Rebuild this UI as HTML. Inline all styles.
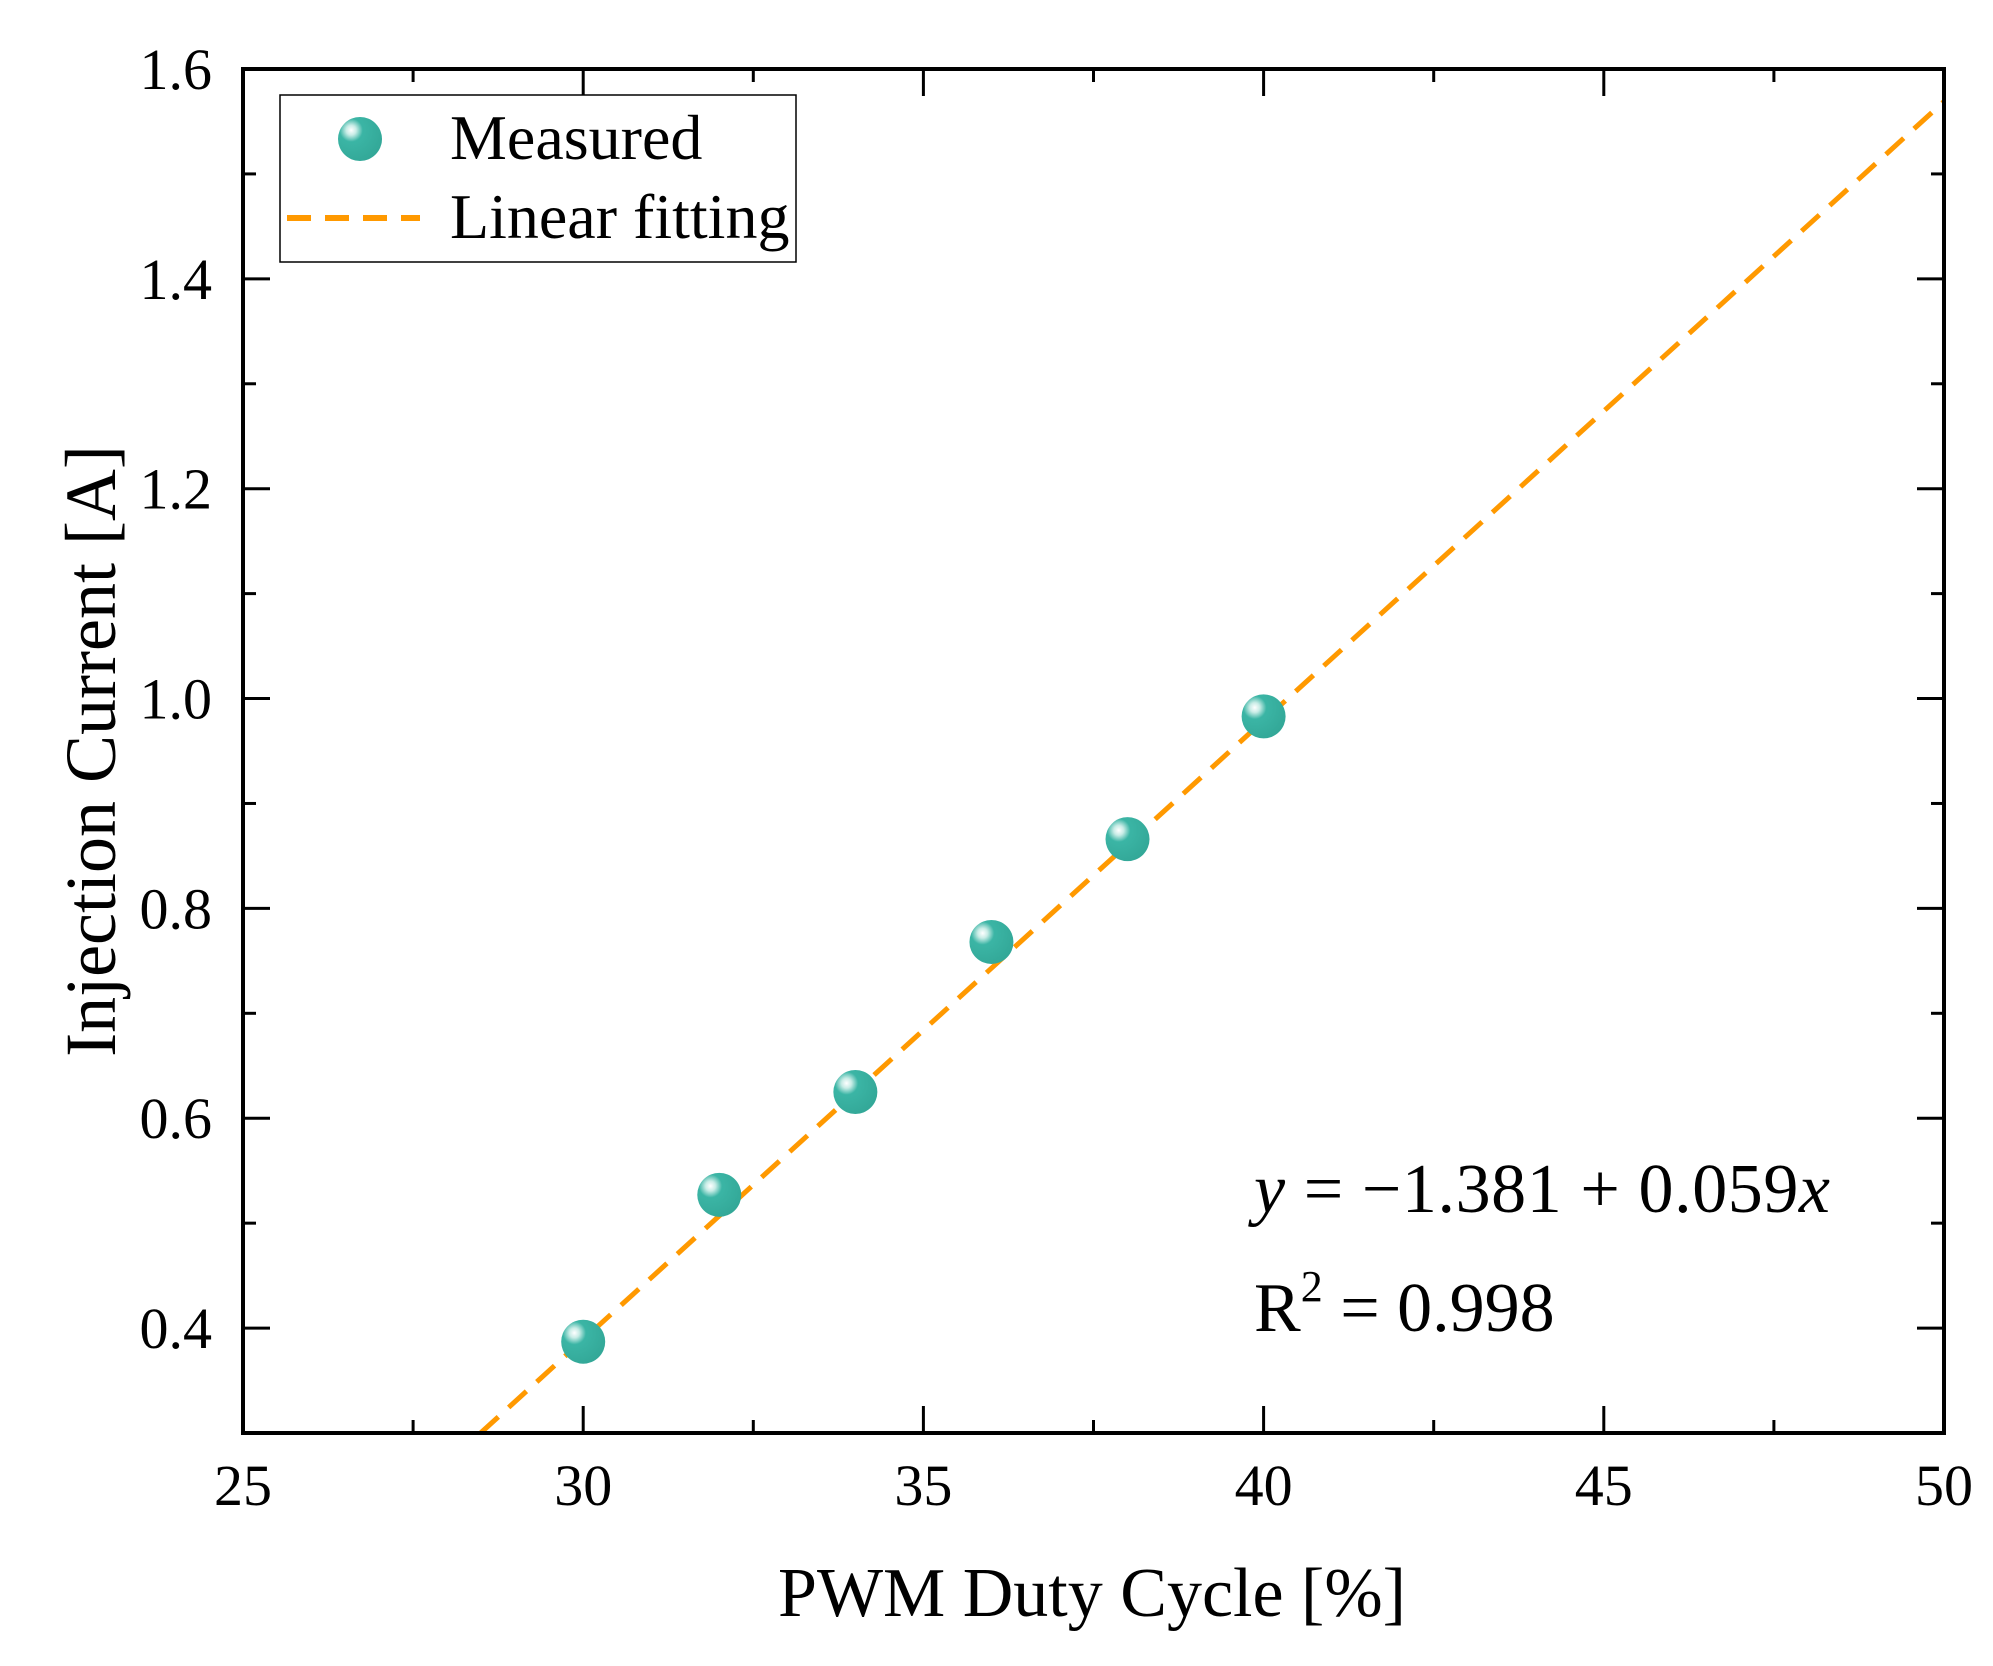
<!DOCTYPE html>
<html><head><meta charset="utf-8"><style>
html,body{margin:0;padding:0;background:#fff;}
svg{display:block;font-family:"Liberation Serif",serif;}
</style></head><body>
<svg id="chart" width="1993" height="1666" viewBox="0 0 1993 1666">
<defs>
<radialGradient id="ball" cx="0.3" cy="0.3" r="0.75">
<stop offset="0" stop-color="#ffffff"/>
<stop offset="0.15" stop-color="#c8ece6"/>
<stop offset="0.35" stop-color="#3bb5a5"/>
<stop offset="1" stop-color="#33a898"/>
</radialGradient>
</defs>
<g id="fit"></g>
<g id="pts"></g>
<g id="axes"></g>
<text x="1092" y="1616" font-size="70" text-anchor="middle">PWM Duty Cycle [%]</text>
<text transform="translate(115,751) rotate(-90)" font-size="72" text-anchor="middle">Injection Current [A]</text>
<text x="1254" y="1212" font-size="70" textLength="576"><tspan font-style="italic">y</tspan> = −1.381 + 0.059<tspan font-style="italic">x</tspan></text>
<text x="1254" y="1331" font-size="70">R<tspan font-size="44" dy="-30">2</tspan><tspan dy="30"> = 0.998</tspan></text>
<g>
<rect x="280" y="95" width="516" height="167" fill="#fff" stroke="#000" stroke-width="1.5"/>
<circle cx="360" cy="139" r="22" fill="url(#ball)"/>
<text x="450" y="159" font-size="64">Measured</text>
<line x1="287" y1="218" x2="420" y2="218" stroke="#FF9900" stroke-width="6" stroke-dasharray="24 14"/>
<text x="450" y="238" font-size="64">Linear fitting</text>
</g>
</svg>
<script>
const xVals = [30, 32, 34, 36, 38, 40];
const yVals = [0.387, 0.527, 0.625, 0.768, 0.866, 0.983];
const xTicks = [25, 30, 35, 40, 45, 50];
const yTicks = [0.4, 0.6, 0.8, 1.0, 1.2, 1.4, 1.6];
const fitCoef = [-1.381, 0.059];

const L=243, R=1944, T=69, B=1433;
const xMin=25, xMax=50, yMin=0.3, yMax=1.6;
const sx = v => L + (v-xMin)/(xMax-xMin)*(R-L);
const sy = v => B - (v-yMin)/(yMax-yMin)*(B-T);
const NS='http://www.w3.org/2000/svg';
function mk(tag, attrs, parent){const e=document.createElementNS(NS,tag);for(const k in attrs)e.setAttribute(k,attrs[k]);parent.appendChild(e);return e;}

const fitG=document.getElementById('fit');
const x0=(yMin-fitCoef[0])/fitCoef[1];
const fl=mk('line',{x1:sx(x0),y1:sy(yMin),x2:sx(xMax),y2:sy(fitCoef[0]+fitCoef[1]*xMax),stroke:'#FF9900','stroke-width':5,'stroke-dasharray':'24 14'},fitG);



const pG=document.getElementById('pts');
xVals.forEach((x,i)=>{
 const c=mk('circle',{cx:sx(x),cy:sy(yVals[i]),r:22,fill:'url(#ball)'},pG);
 
 
});

const aG=document.getElementById('axes');
const fr=mk('rect',{x:L,y:T,width:R-L,height:B-T,fill:'none',stroke:'#000','stroke-width':4},aG);


for(let v=xMin; v<=xMax+0.01; v+=2.5){
 const major=Math.abs(v%5)<0.01; const len=major?27:13; const X=sx(v);
 mk('line',{x1:X,y1:B,x2:X,y2:B-len,stroke:'#000','stroke-width':3},aG);
 mk('line',{x1:X,y1:T,x2:X,y2:T+len,stroke:'#000','stroke-width':3},aG);
}
for(let v=0.3; v<=yMax+0.001; v+=0.1){
 const major=Math.abs(Math.round(v*10)%2)===0; const len=major?27:13; const Y=sy(v);
 mk('line',{x1:L,y1:Y,x2:L+len,y2:Y,stroke:'#000','stroke-width':3},aG);
 mk('line',{x1:R,y1:Y,x2:R-len,y2:Y,stroke:'#000','stroke-width':3},aG);
}
xTicks.forEach(v=>{
 const t=mk('text',{x:sx(v),y:1505,'font-size':58,'text-anchor':'middle'},aG);
 t.textContent=v;
 
 
});
yTicks.forEach(v=>{
 const t=mk('text',{x:212,y:sy(v)+20,'font-size':58,'text-anchor':'end'},aG);
 t.textContent=v.toFixed(1);
 
 
});
</script>
</body></html>
